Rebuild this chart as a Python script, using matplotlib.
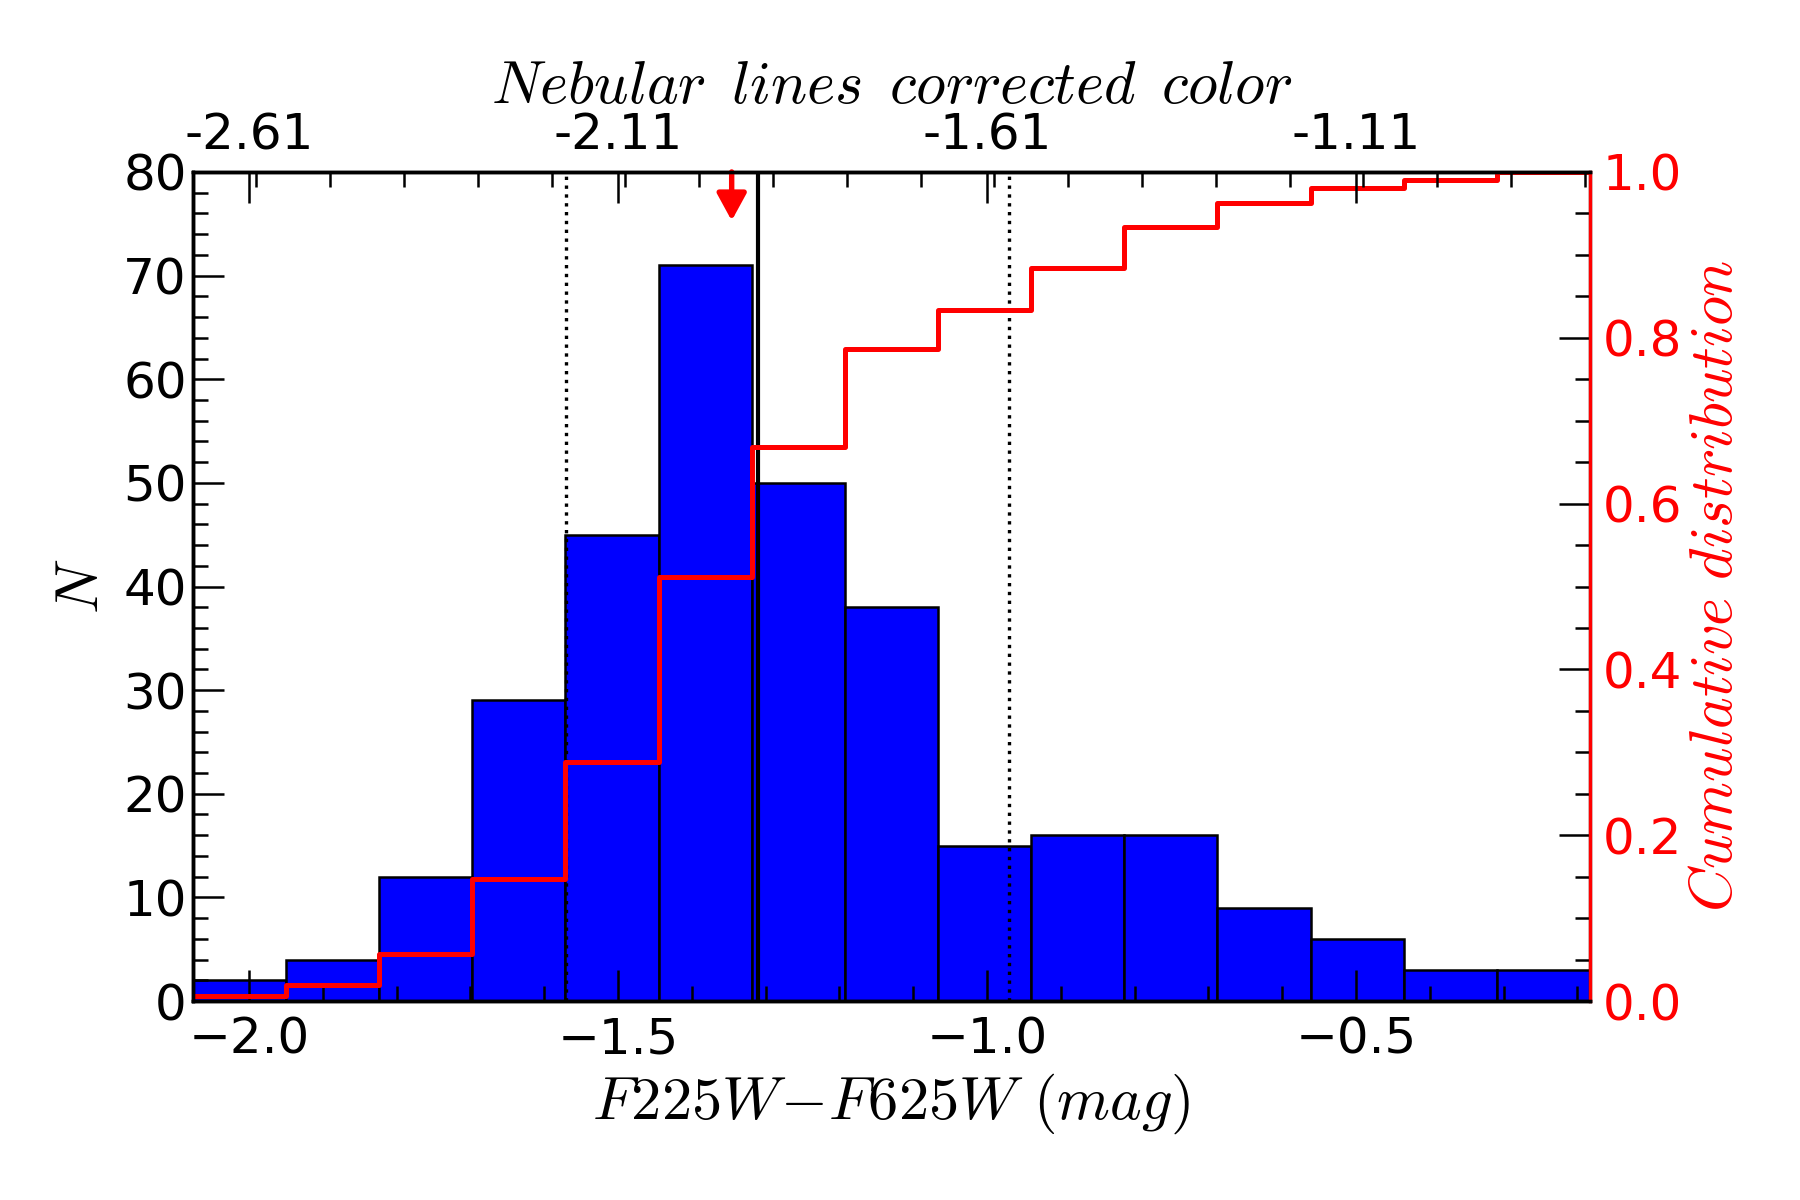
import numpy as np
import matplotlib
matplotlib.use("Agg")
import matplotlib.pyplot as plt
from matplotlib.ticker import MultipleLocator

plt.rcParams['mathtext.fontset'] = 'cm'
plt.rcParams['font.family'] = ['DejaVu Sans']

# histogram of F225W-F625W colours
x_min, x_max = -2.076, -0.183
counts = [2, 4, 12, 29, 45, 71, 50, 38, 15, 16, 16, 9, 6, 3, 3]
edges = np.linspace(x_min, x_max, len(counts) + 1)
cum = np.cumsum(counts) / np.sum(counts)

median_color = -1.310
arrow_color = -1.346
dotted_lines = [-1.570, -0.970]
nebular_offset = 0.61
top_ticks = [-2.61, -2.11, -1.61, -1.11]

fig = plt.figure(figsize=(6, 4), dpi=300)
ax = fig.add_axes([0.1072, 0.1658, 0.7761, 0.6909])

ax.bar(edges[:-1], counts, width=np.diff(edges), align='edge',
       color='#0000ff', edgecolor='black', linewidth=0.6)
ax.axvline(median_color, color='black', lw=1.0)
for xv in dotted_lines:
    ax.axvline(xv, color='black', lw=0.8, ls=':')
ax.annotate('', xy=(arrow_color, 75.3), xytext=(arrow_color, 80),
            arrowprops=dict(arrowstyle='-|>,head_length=0.55,head_width=0.3',
                            color='red', lw=1.3, shrinkA=0, shrinkB=0),
            annotation_clip=False)

ax.set_xlim(x_min, x_max)
ax.set_ylim(0, 80)
ax.xaxis.set_major_locator(MultipleLocator(0.5))
ax.xaxis.set_minor_locator(MultipleLocator(0.1))
ax.yaxis.set_major_locator(MultipleLocator(10))
ax.yaxis.set_minor_locator(MultipleLocator(2))
ax.tick_params(which='both', direction='in', top=False, right=False,
               labelsize=12, width=0.6)
ax.tick_params(axis='y', which='both', pad=1.5)
ax.tick_params(which='major', length=7.5)
ax.tick_params(which='minor', length=3.5)
ax.set_xlabel(r'$F225W\!-\!F625W\ (mag)$', fontsize=14.5, labelpad=2)
ax.set_ylabel(r'$N$', fontsize=14.5, labelpad=3)
for s in ax.spines.values():
    s.set_linewidth(0.8)

# cumulative distribution
ax2 = ax.twinx()
ax2.step(edges, np.append(cum, cum[-1]), where='post', color='red', lw=1.2)
ax2.set_ylim(0, 1.0)
ax2.yaxis.set_major_locator(MultipleLocator(0.2))
ax2.yaxis.set_minor_locator(MultipleLocator(0.05))
ax2.tick_params(which='both', direction='in', labelsize=12, labelcolor='red',
                width=0.6, pad=3)
ax2.tick_params(which='major', length=7.5)
ax2.tick_params(which='minor', length=3.5)
ax2.set_yticklabels([f'{v:.1f}' for v in ax2.get_yticks()])
ax2.set_ylabel(r'$Cumulative\ distribution$', color='red', fontsize=14.5, labelpad=1)
ax2.spines['right'].set_color('red')
for s in ax2.spines.values():
    s.set_linewidth(0.8)

# nebular-corrected colour on top
ax3 = ax.twiny()
ax3.set_xlim(x_min - nebular_offset, x_max - nebular_offset)
ax3.set_xticks(top_ticks)
ax3.set_xticklabels([f'{v:.2f}' for v in top_ticks])
ax3.xaxis.set_minor_locator(MultipleLocator(0.1))
ax3.tick_params(which='both', direction='in', labelsize=12, width=0.6, pad=3)
ax3.tick_params(which='major', length=7.5)
ax3.tick_params(which='minor', length=3.5)
ax3.set_xlabel(r'$Nebular\ \,lines\ \,corrected\ \,color$', fontsize=14.5, labelpad=2)
ax3.spines['right'].set_visible(False)

fig.savefig('out.png', dpi=300)
